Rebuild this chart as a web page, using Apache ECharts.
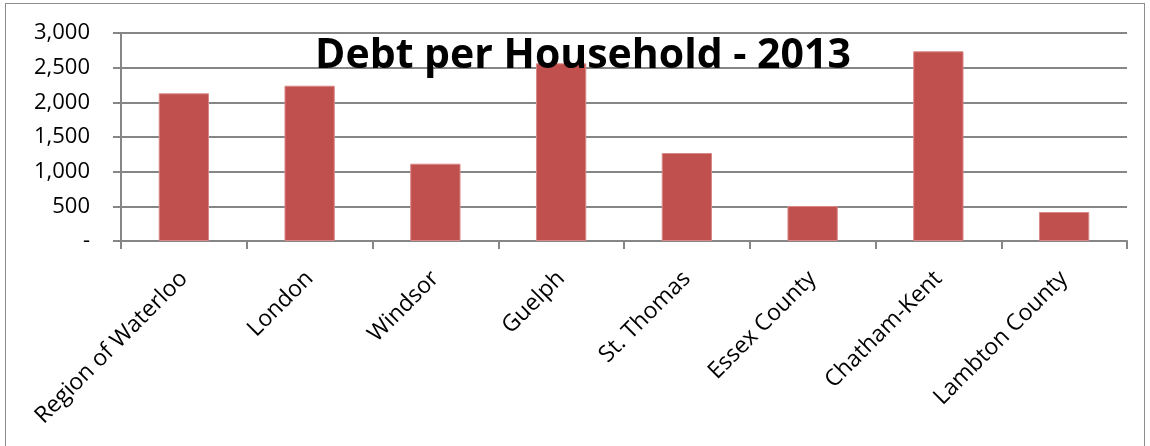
<!DOCTYPE html>
<html><head><meta charset="utf-8">
<script src="https://cdn.jsdelivr.net/npm/echarts@6/dist/echarts.min.js"></script>
<style>
html,body{margin:0;padding:0;background:#fff;}
#frame{position:absolute;left:5px;top:3px;width:1140px;height:460px;border:1px solid #8c8c8c;box-sizing:border-box;}
#c{position:absolute;left:0;top:0;width:1150px;height:446px;}
</style></head>
<body>
<div id="frame"></div>
<div id="c"></div>
<script>
const categories = ["Region of Waterloo","London","Windsor","Guelph","St. Thomas","Essex County","Chatham-Kent","Lambton County"];
const debtValues = [2130, 2240, 1115, 2563, 1269, 505, 2736, 418];
const titleText = "Debt per Household - 2013";

const chart = echarts.init(document.getElementById('c'), null, {renderer:'canvas'});
chart.setOption({
  animation:false,
  backgroundColor:'transparent',
  title:{text:titleText,left:578,top:31,textAlign:'center',
    textStyle:{fontFamily:'Open Sans',fontWeight:'bold',fontSize:41,color:'#000'}},
  grid:{left:121,right:23,top:33,bottom:205,containLabel:false},
  xAxis:{type:'category',data:categories,
    axisLine:{lineStyle:{color:'#868686',width:2}},
    axisTick:{show:true,length:8,lineStyle:{color:'#868686',width:2}},
    axisLabel:{rotate:45,margin:34,fontFamily:'Open Sans',fontSize:23,color:'#000',interval:0}},
  yAxis:{type:'value',min:0,max:3000,interval:500,
    axisLine:{show:true,lineStyle:{color:'#868686',width:2}},
    axisTick:{show:true,length:8,lineStyle:{color:'#868686',width:2}},
    splitLine:{lineStyle:{color:'#868686',width:2}},
    axisLabel:{margin:31,fontFamily:'Open Sans',fontSize:22,color:'#000',
      formatter:v=>v===0?'-':v.toLocaleString('en-US')}},
  series:[{type:'bar',data:debtValues,barWidth:'40%',
    itemStyle:{color:'#C0504D',borderColor:'#D98A88',borderWidth:1}}]
});
</script>
</body></html>
